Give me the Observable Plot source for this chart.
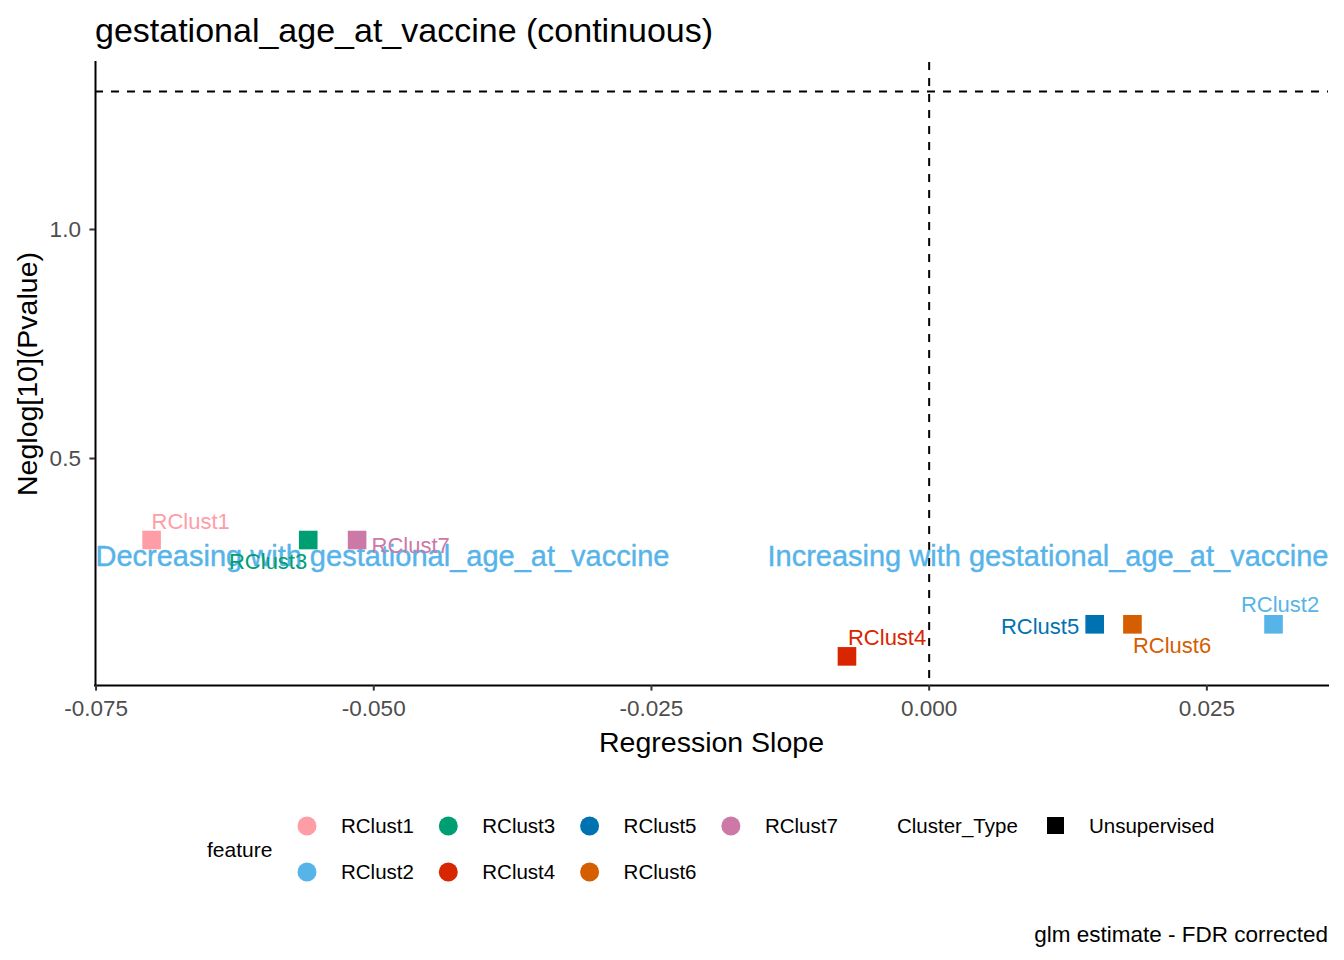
<!DOCTYPE html>
<html>
<head>
<meta charset="utf-8">
<script src="https://cdn.jsdelivr.net/npm/d3@7"></script>
<script src="https://cdn.jsdelivr.net/npm/@observablehq/plot@0.6"></script>
<style>
  body { margin: 0; background: #fff; }
  #wrap { position: relative; width: 1344px; height: 960px; background: #fff; font-family: "Liberation Sans", Arial, sans-serif; }
  #wrap svg { position: absolute; left: 0; top: 0; }
</style>
</head>
<body>
<div id="wrap"></div>
<script>
// ---- data ----
const features = ["RClust1", "RClust2", "RClust3", "RClust4", "RClust5", "RClust6", "RClust7"];
const slopes   = [-0.0700, 0.0310, -0.0559, -0.0074, 0.0149, 0.0183, -0.0515];
const neglogP  = [0.322, 0.138, 0.322, 0.068, 0.138, 0.138, 0.322];
const clusterTypes = ["Unsupervised", "Unsupervised", "Unsupervised", "Unsupervised", "Unsupervised", "Unsupervised", "Unsupervised"];
const featureColors = ["#FF9DA6", "#56B4E9", "#009E73", "#D72600", "#0072B2", "#D55E00", "#CC79A7"];
const xTicks = [-0.075, -0.050, -0.025, 0.000, 0.025];
const yTicks = [0.5, 1.0];
const fdrThreshold = -Math.log10(0.05);
const zeroSlope = 0;
const annotationTexts = ["Decreasing with gestational_age_at_vaccine", "Increasing with gestational_age_at_vaccine"];
const annotationY = 0.286;
const titleText = "gestational_age_at_vaccine (continuous)";
const xLabel = "Regression Slope";
const yLabel = "Neglog[10](Pvalue)";
const captionText = "glm estimate - FDR corrected";

// ---- layout / label placement (styling, not data) ----
const labelPlacement = [
  { feature: "RClust1", anchor: "start",  dx: 0,     dy: -18.5 },
  { feature: "RClust2", anchor: "middle", dx: 6.5,   dy: -19 },
  { feature: "RClust3", anchor: "end",    dx: -1,    dy: 21.5 },
  { feature: "RClust4", anchor: "start",  dx: 1,     dy: -18.5 },
  { feature: "RClust5", anchor: "end",    dx: -15.5, dy: 2.5 },
  { feature: "RClust6", anchor: "start",  dx: 0.5,   dy: 22 },
  { feature: "RClust7", anchor: "start",  dx: 14.5,  dy: 5.5 }
];

const data = features.map((f, i) => ({ feature: f, slope: slopes[i], p: neglogP[i], type: clusterTypes[i] }));

const FONT = '"Liberation Sans", Arial, sans-serif';
const W = 1344, H = 770;
const xDomain = [-0.07505, 0.03595];
const yDomain = [0.0044, 1.3646];

const labelMarks = labelPlacement.map(pl =>
  Plot.text(data.filter(d => d.feature === pl.feature), {
    x: "slope", y: "p", text: "feature", fill: "feature",
    textAnchor: pl.anchor, dx: pl.dx, dy: pl.dy, fontSize: 22
  })
);

const chart = Plot.plot({
  width: W, height: H,
  marginTop: 62, marginBottom: H - 685, marginLeft: 95, marginRight: 16,
  style: { fontFamily: FONT, background: "transparent", overflow: "visible" },
  x: { domain: xDomain },
  y: { domain: yDomain },
  color: { domain: features, range: featureColors },
  marks: [
    Plot.ruleY([fdrThreshold], { stroke: "black", strokeWidth: 2, strokeDasharray: "8,8" }),
    Plot.ruleX([zeroSlope], { stroke: "black", strokeWidth: 2, strokeDasharray: "8,8" }),
    Plot.text([annotationTexts[0]], { x: () => xDomain[0], y: () => annotationY, text: d => d, textAnchor: "start", fill: "#56B4E9", stroke: "#56B4E9", strokeWidth: 0.4, fontSize: 29 }),
    Plot.text([annotationTexts[1]], { x: () => xDomain[1], y: () => annotationY, text: d => d, textAnchor: "end", fill: "#56B4E9", stroke: "#56B4E9", strokeWidth: 0.4, fontSize: 29 }),
    Plot.dot(data, { x: "slope", y: "p", fill: "feature", symbol: "square", r: 10.5 }),
    ...labelMarks,
    Plot.ruleX([xDomain[0]], { stroke: "black", strokeWidth: 2, strokeLinecap: "square" }),
    Plot.ruleY([yDomain[0]], { stroke: "black", strokeWidth: 2, strokeLinecap: "square" }),
    Plot.axisX({ ticks: xTicks, tickFormat: d => d.toFixed(3), tickSize: 5.6, tickPadding: 9, fontSize: 22.5,
                 stroke: "#333333", fill: "#4D4D4D", strokeWidth: 2, label: null }),
    Plot.axisY({ ticks: yTicks, tickFormat: d => d.toFixed(1), tickSize: 5.6, tickPadding: 9, fontSize: 22.5,
                 stroke: "#333333", fill: "#4D4D4D", strokeWidth: 2, label: null })
  ]
});

const wrap = document.getElementById("wrap");
wrap.appendChild(chart);

// ---- overlay: title, axis titles, legend, caption ----
const svg = d3.select(wrap).append("svg")
  .attr("width", 1344).attr("height", 960)
  .style("font-family", FONT)
  .style("pointer-events", "none");

svg.append("text").attr("x", 95).attr("y", 41.5)
  .attr("font-size", 34).attr("fill", "black").text(titleText);

svg.append("text").attr("x", 711.5).attr("y", 752)
  .attr("font-size", 28.5).attr("text-anchor", "middle").attr("fill", "black").text(xLabel);

svg.append("text").attr("transform", "translate(37,374) rotate(-90)")
  .attr("font-size", 28.5).attr("text-anchor", "middle").attr("fill", "black").text(yLabel);

// legend: feature
svg.append("text").attr("x", 207).attr("y", 849).attr("dy", "0.36em")
  .attr("font-size", 21).attr("fill", "black").text("feature");

features.forEach((f, i) => {
  const col = Math.floor(i / 2), row = i % 2;
  const cx = 307 + col * 141.3, cy = 826 + row * 46;
  svg.append("circle").attr("cx", cx).attr("cy", cy).attr("r", 9.5).attr("fill", featureColors[i]);
  svg.append("text").attr("x", cx + 34).attr("y", cy).attr("dy", "0.36em")
    .attr("font-size", 20.5).attr("fill", "black").text(f);
});

// legend: Cluster_Type
svg.append("text").attr("x", 897).attr("y", 826).attr("dy", "0.36em")
  .attr("font-size", 20.5).attr("fill", "black").text("Cluster_Type");
const types = Array.from(new Set(clusterTypes));
types.forEach((t, i) => {
  svg.append("rect").attr("x", 1047).attr("y", 817 + i * 46).attr("width", 17).attr("height", 17).attr("fill", "black");
  svg.append("text").attr("x", 1089).attr("y", 826 + i * 46).attr("dy", "0.36em")
    .attr("font-size", 20.5).attr("fill", "black").text(t);
});

// caption
svg.append("text").attr("x", 1328).attr("y", 934).attr("dy", "0.36em")
  .attr("font-size", 22.5).attr("text-anchor", "end").attr("fill", "black").text(captionText);
</script>
</body>
</html>
